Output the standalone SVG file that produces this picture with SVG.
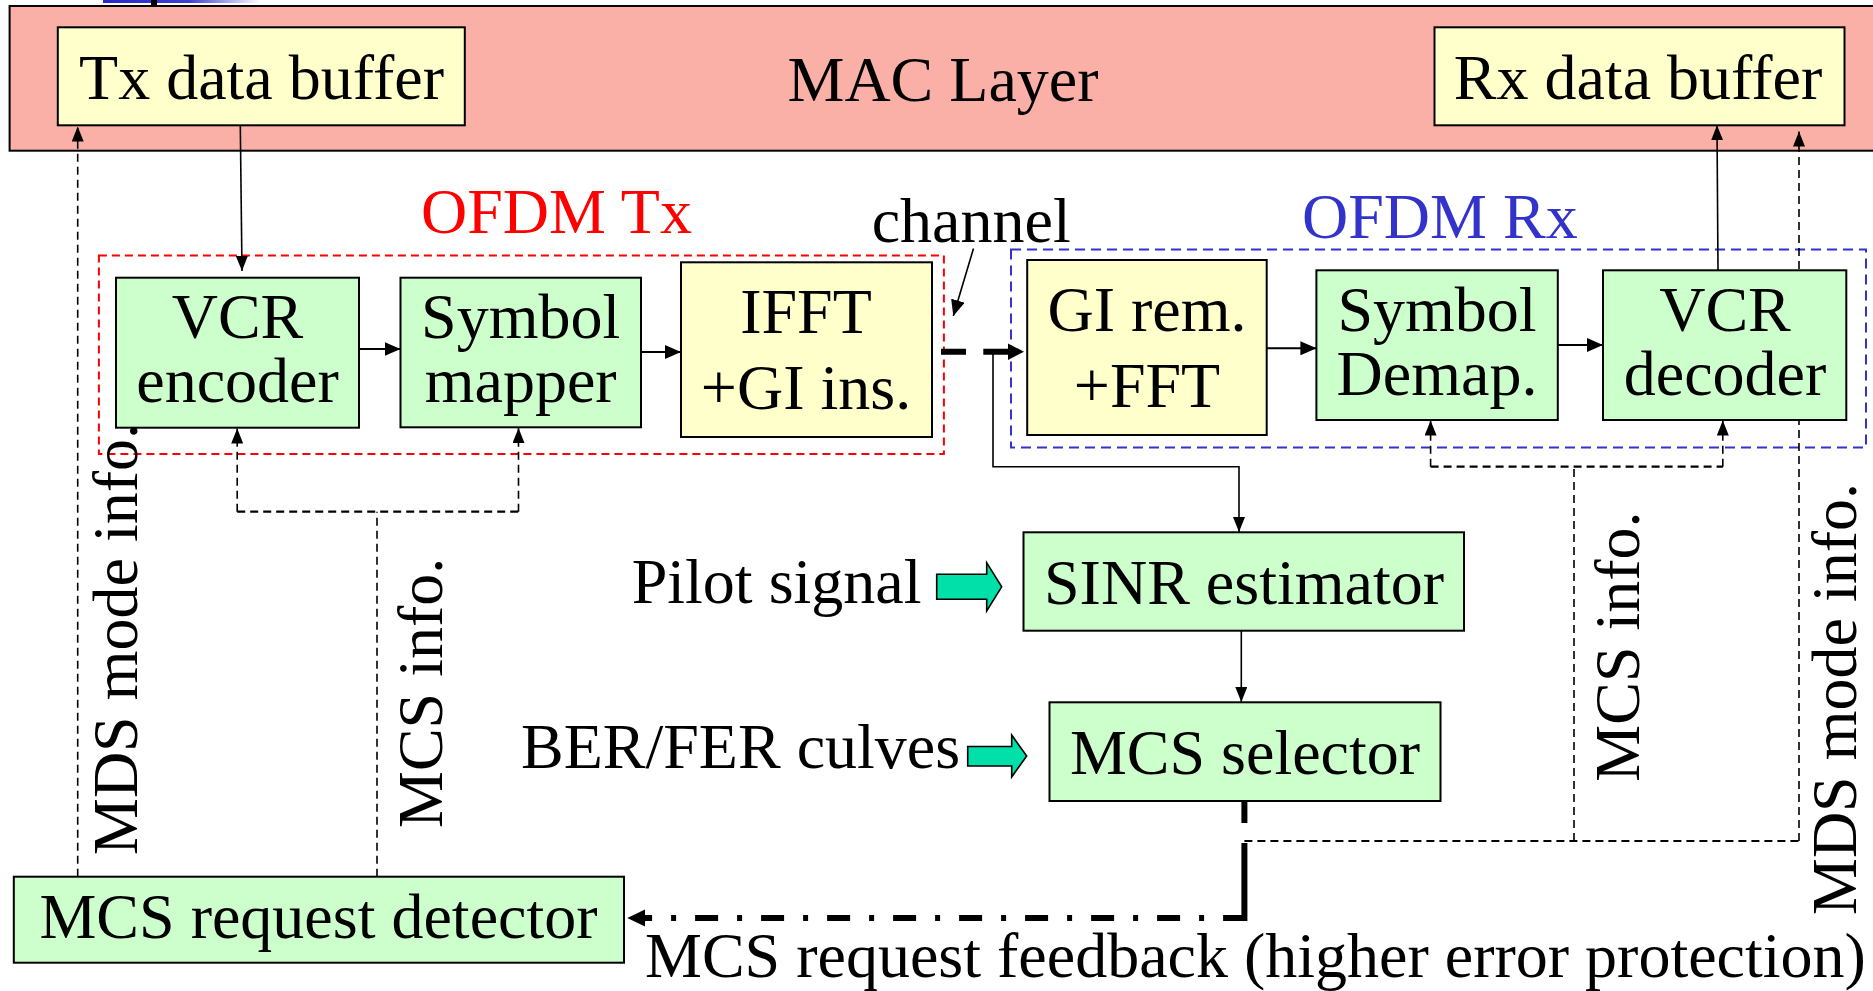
<svg xmlns="http://www.w3.org/2000/svg" width="1873" height="991" viewBox="0 0 1873 991">
  <defs>
    <linearGradient id="topBar" x1="0" y1="0" x2="1" y2="0">
      <stop offset="0" stop-color="#2828c8"/>
      <stop offset="0.55" stop-color="#4040d0"/>
      <stop offset="1" stop-color="#ffffff"/>
    </linearGradient>
    <marker id="head" viewBox="0 0 16 14" refX="16" refY="7" markerWidth="16" markerHeight="14" markerUnits="userSpaceOnUse" orient="auto">
      <path d="M0,0 L16,7 L0,14 z" fill="#000"/>
    </marker>
    <marker id="headSmall" viewBox="0 0 15 12" refX="15" refY="6" markerWidth="15" markerHeight="12" markerUnits="userSpaceOnUse" orient="auto">
      <path d="M0,0 L15,6 L0,12 z" fill="#000"/>
    </marker>
  </defs>
  <style>
    text { font-family: "Liberation Serif", "Times New Roman", serif; font-size: 64px; fill: #000; }
    .mid { text-anchor: middle; }
    .box { stroke: #000; stroke-width: 2; }
    .green { fill: #ccffcc; }
    .yellow { fill: #ffffcc; }
    .solid { fill: none; stroke: #000; stroke-width: 1.6; }
    .flow { fill: none; stroke: #000; stroke-width: 2; }
    .dash { fill: none; stroke: #000; stroke-width: 1.6; stroke-dasharray: 8 5; }
    .dashH { fill: none; stroke: #000; stroke-width: 2.2; stroke-dasharray: 8 5; }
    .thick { fill: none; stroke: #000; stroke-width: 6; }
    .block { fill: #00e0a8; stroke: #000; stroke-width: 1.6; stroke-linejoin: miter; }
  </style>

  <!-- strip at the top edge -->
  <rect x="103" y="0" width="157" height="3" fill="url(#topBar)"/>
  <rect x="151" y="0" width="6" height="6" fill="#000"/>

  <!-- MAC layer band -->
  <g id="mac-layer">
    <rect x="9.6" y="6" width="1875" height="144.7" fill="#fab0a6" stroke="#000" stroke-width="2"/>
    <text x="943" y="100.7" class="mid">MAC Layer</text>
  </g>

  <!-- OFDM transmitter / receiver groupings -->
  <g id="ofdm-tx">
    <rect x="98.9" y="255.5" width="845" height="198.5" fill="none" stroke="#ff0000" stroke-width="2" stroke-dasharray="8 5"/>
    <text x="421" y="233" style="fill:#ff0000">OFDM Tx</text>
  </g>
  <g id="ofdm-rx">
    <rect x="1011" y="249.5" width="855" height="198" fill="none" stroke="#3333cc" stroke-width="2" stroke-dasharray="10 6"/>
    <text x="1302" y="238" style="fill:#3333cc">OFDM Rx</text>
  </g>

  <!-- connectors -->
  <g id="connectors">
    <!-- data path -->
    <path class="solid" d="M240.3,125.3 L242,271" marker-end="url(#headSmall)"/>
    <path class="flow" d="M359,349 L400.5,349" marker-end="url(#head)"/>
    <path class="flow" d="M641,352 L681,352" marker-end="url(#head)"/>
    <path class="thick" d="M941,351.7 L966,351.7 M983.3,351.7 L1009,351.7"/>
    <path d="M1008,343.5 L1024,351.7 L1008,360 z" fill="#000"/>
    <path class="flow" d="M1266.7,348.3 L1316.4,348.3" marker-end="url(#head)"/>
    <path class="flow" d="M1557.8,345 L1603,345" marker-end="url(#head)"/>
    <path class="solid" d="M1718,270.3 L1717,125.3" marker-end="url(#headSmall)"/>

    <!-- channel label pointer -->
    <path class="solid" d="M973.5,248.5 L953.3,316" marker-end="url(#head)"/>

    <!-- channel tap to SINR estimator -->
    <path class="solid" d="M993,352 L993,466.7 L1239,466.7 L1239,532" marker-end="url(#headSmall)"/>
    <path class="solid" d="M1241.3,630.7 L1241.3,702" marker-end="url(#headSmall)"/>

    <!-- MCS info to transmitter blocks -->
    <path class="dash" d="M377,876.7 L377,511.7"/>
    <path class="dashH" d="M237.2,511.7 L518.5,511.7"/>
    <path class="dash" d="M237.2,511.7 L237.2,428.5" marker-end="url(#headSmall)"/>
    <path class="dash" d="M518.5,511.7 L518.5,428" marker-end="url(#headSmall)"/>

    <!-- MDS mode info to Tx data buffer -->
    <path class="dash" d="M77.7,876.7 L77.7,126.5" marker-end="url(#headSmall)"/>

    <!-- MCS / MDS info to receiver side -->
    <path class="dashH" d="M1244.4,841 L1799,841"/>
    <path class="dash" d="M1574,841 L1574,466.7"/>
    <path class="dashH" d="M1430.6,466.7 L1722.8,466.7"/>
    <path class="dash" d="M1430.6,466.7 L1430.6,420.5" marker-end="url(#headSmall)"/>
    <path class="dash" d="M1722.8,466.7 L1722.8,420.5" marker-end="url(#headSmall)"/>
    <path class="dash" d="M1799,841 L1799,131.5" marker-end="url(#headSmall)"/>

    <!-- MCS request feedback -->
    <path class="thick" d="M1244.4,801 L1244.4,823 M1244.4,843 L1244.4,921"/>
    <path class="thick" d="M1247.4,918 L645,918" stroke-dasharray="23 19 5 19" stroke-dashoffset="64.7"/>
    <path d="M645,909.5 L627.3,918 L645,926.5 z" fill="#000"/>

    <!-- external inputs -->
    <path class="block" d="M936.7,574.3 L986.7,574.3 L986.7,562.7 L1001.7,586.8 L986.7,611 L986.7,599.3 L936.7,599.3 z"/>
    <path class="block" d="M967.7,746.5 L1011.7,746.5 L1011.7,735 L1026.7,756 L1011.7,777 L1011.7,766 L967.7,766 z"/>
  </g>

  <!-- buffers -->
  <g id="tx-data-buffer">
    <rect class="box yellow" x="57.8" y="27.3" width="407" height="98"/>
    <text x="261.5" y="99" class="mid">Tx data buffer</text>
  </g>
  <g id="rx-data-buffer">
    <rect class="box yellow" x="1434.5" y="27.3" width="410" height="98"/>
    <text x="1638" y="99" class="mid">Rx data buffer</text>
  </g>

  <!-- transmitter blocks -->
  <g id="vcr-encoder">
    <rect class="box green" x="116" y="277.7" width="243" height="150"/>
    <text x="237.5" y="338" class="mid">VCR</text>
    <text x="237.5" y="402" class="mid">encoder</text>
  </g>
  <g id="symbol-mapper">
    <rect class="box green" x="400.5" y="277.7" width="240.5" height="149.6"/>
    <text x="520.7" y="338" class="mid">Symbol</text>
    <text x="520.7" y="402" class="mid">mapper</text>
  </g>
  <g id="ifft-gi-ins">
    <rect class="box yellow" x="681" y="262.3" width="251" height="174.7"/>
    <text x="806" y="333" class="mid">IFFT</text>
    <text x="806" y="409" class="mid">+GI ins.</text>
  </g>

  <!-- receiver blocks -->
  <g id="gi-rem-fft">
    <rect class="box yellow" x="1027.2" y="260" width="239.5" height="175"/>
    <text x="1147" y="331" class="mid">GI rem.</text>
    <text x="1147" y="407" class="mid">+FFT</text>
  </g>
  <g id="symbol-demap">
    <rect class="box green" x="1316.4" y="270.3" width="241.4" height="149.7"/>
    <text x="1437" y="331" class="mid">Symbol</text>
    <text x="1437" y="395" class="mid">Demap.</text>
  </g>
  <g id="vcr-decoder">
    <rect class="box green" x="1603" y="270.3" width="243.3" height="149.7"/>
    <text x="1725" y="331" class="mid">VCR</text>
    <text x="1725" y="395" class="mid">decoder</text>
  </g>

  <!-- adaptation blocks -->
  <g id="sinr-estimator">
    <rect class="box green" x="1023.5" y="532.3" width="440.5" height="98.4"/>
    <text x="1244" y="604" class="mid">SINR estimator</text>
  </g>
  <g id="mcs-selector">
    <rect class="box green" x="1049.5" y="702.3" width="391" height="98.7"/>
    <text x="1245" y="774" class="mid">MCS selector</text>
  </g>
  <g id="mcs-request-detector">
    <rect class="box green" x="13.8" y="876.7" width="610.2" height="86"/>
    <text x="318.5" y="938" class="mid">MCS request detector</text>
  </g>

  <!-- free labels -->
  <g id="labels">
    <text x="871.7" y="241.7">channel</text>
    <text x="631.7" y="603.3">Pilot signal</text>
    <text x="521" y="768.3">BER/FER culves</text>
    <text x="645" y="977">MCS request feedback (higher error protection)</text>
    <text transform="translate(136.6,855) rotate(-90)">MDS mode info.</text>
    <text transform="translate(442,828) rotate(-90)">MCS info.</text>
    <text transform="translate(1639,781.7) rotate(-90)">MCS info.</text>
    <text transform="translate(1855.7,915) rotate(-90)">MDS mode info.</text>
  </g>
</svg>
